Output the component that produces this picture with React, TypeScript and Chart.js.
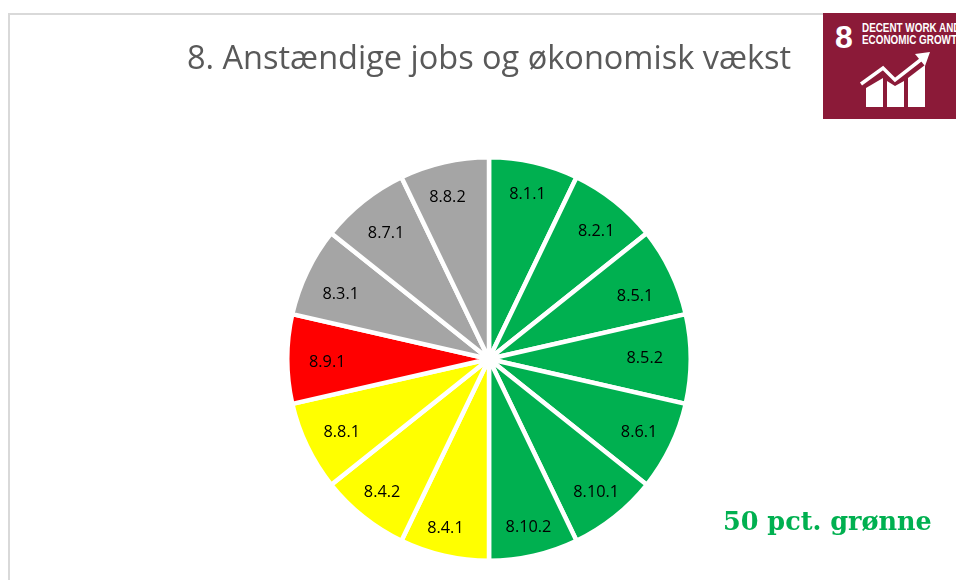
import React, { useEffect, useRef } from "react";
import { Chart, registerables } from "chart.js";

Chart.register(...registerables);

const categories = ["8.1.1","8.2.1","8.5.1","8.5.2","8.6.1","8.10.1","8.10.2","8.4.1","8.4.2","8.8.1","8.9.1","8.3.1","8.7.1","8.8.2"];
const values = [1,1,1,1,1,1,1,1,1,1,1,1,1,1];
const GREEN = "#00B050", YELLOW = "#FFFF00", RED = "#FF0000", GREY = "#A5A5A5";
const colors = [GREEN,GREEN,GREEN,GREEN,GREEN,GREEN,GREEN,YELLOW,YELLOW,YELLOW,RED,GREY,GREY,GREY];
const titleText = "8. Anstændige jobs og økonomisk vækst";
const noteText = "50 pct. grønne";
const badgeNumber = "8";
const badgeLines = ["DECENT WORK AND", "ECONOMIC GROWTH"];
const BADGE = "#8B1A38";
// Small per-label placement corrections for the text only (the slices come from the scale).
const labelNudgeX = [0,3,2,-1,6,3,1,-5,-1,2,2,1,3,-3];
const labelNudgeY = [3,2,6,-2,3,2,-1,-1,0,1,2,6,6,6];

const sliceLabels = {
  id: "sliceLabels",
  afterDatasetsDraw(chart: any) {
    const ctx = chart.ctx;
    const arcs = chart.getDatasetMeta(0).data;
    ctx.save();
    ctx.font = '16.3px "Open Sans"';
    ctx.fillStyle = "#000";
    ctx.textAlign = "center";
    ctx.textBaseline = "middle";
    arcs.forEach((arc: any, i: number) => {
      const p = arc.getProps(["x","y","startAngle","endAngle","outerRadius"], true);
      const a = (p.startAngle + p.endAngle) / 2;
      const sinSq = Math.cos(a) * Math.cos(a);
      const inset = 28 + (Math.cos(a) >= 0 ? 17 : 10) * sinSq;
      const r = p.outerRadius - inset;
      ctx.fillText(categories[i], p.x + r * Math.cos(a) + labelNudgeX[i], p.y + r * Math.sin(a) + 1 + labelNudgeY[i]);
    });
    ctx.restore();
  },
};

const textStyle: React.CSSProperties = { position: "absolute", whiteSpace: "nowrap", lineHeight: 1 };

export default function App() {
  const ref = useRef<HTMLCanvasElement>(null);
  useEffect(() => {
    const chart = new Chart(ref.current!, {
      type: "pie",
      data: {
        labels: categories,
        datasets: [{ data: values, backgroundColor: colors, borderColor: "#fff", borderWidth: 4.5, borderAlign: "center" as any }],
      },
      options: {
        responsive: false,
        animation: false,
        layout: { padding: { left: 285, right: 263, top: 155, bottom: 17 } },
        plugins: { legend: { display: false }, tooltip: { enabled: false }, title: { display: false } },
      },
      plugins: [sliceLabels],
    });
    return () => chart.destroy();
  }, []);

  return (
    <div style={{ position: "fixed", left: 0, top: 0, width: 956, height: 580, overflow: "hidden", background: "#fff" }}>
      <div style={{ position: "absolute", left: 8, top: 13, width: 960, height: 600, border: "2px solid #d9d9d9", boxSizing: "border-box" }} />
      <canvas ref={ref} width={956} height={580} style={{ position: "absolute", left: 0, top: 0, display: "block" }} />
      <div style={{ ...textStyle, left: 187, top: 41, fontFamily: '"Open Sans"', fontSize: 32.5, color: "#595959" }}>{titleText}</div>
      <div style={{ ...textStyle, left: 723, top: 509, fontFamily: '"DejaVu Serif"', fontWeight: 700, fontSize: 25.5, color: GREEN }}>{noteText}</div>
      <div style={{ position: "absolute", left: 823, top: 13, width: 133, height: 106, background: BADGE, overflow: "hidden" }}>
        <div style={{ ...textStyle, left: 12, top: 8, fontFamily: '"Liberation Sans"', fontWeight: 700, fontSize: 32, color: "#fff" }}>{badgeNumber}</div>
        <div style={{ ...textStyle, left: 39, top: 9, fontFamily: '"Liberation Sans"', fontWeight: 700, fontSize: 13, lineHeight: "12px", color: "#fff", transform: "scaleX(0.76)", transformOrigin: "left top" }}>
          {badgeLines.map((l) => <div key={l}>{l}</div>)}
        </div>
        <svg width={133} height={106} style={{ position: "absolute", left: 0, top: 0 }}>
          <polygon points="43,75 60,65 60,94 43,94" fill="#fff" />
          <polygon points="64,68 72,73 81,68 81,94 64,94" fill="#fff" />
          <polygon points="85,65 102,52 102,94 85,94" fill="#fff" />
          <polyline points="38,71 60,55 72,67 100,45" fill="none" stroke={BADGE} strokeWidth={7} />
          <polyline points="38,71 60,55 72,67 100,45" fill="none" stroke="#fff" strokeWidth={3.5} />
          <polygon points="107,39 92,41 102,53" fill="#fff" />
        </svg>
      </div>
    </div>
  );
}
